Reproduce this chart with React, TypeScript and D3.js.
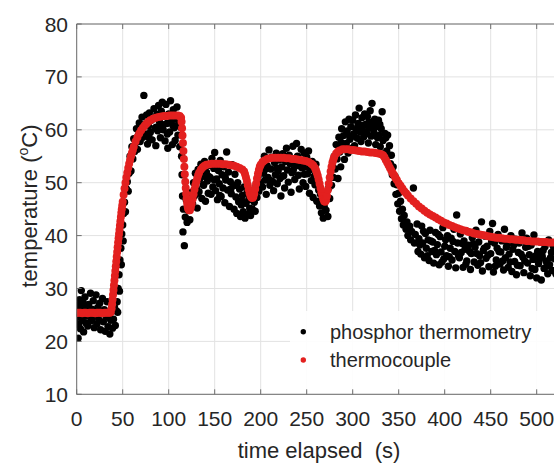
import React from "react";
import * as d3 from "d3";

// ---------- data ----------
const xTicks = [0, 50, 100, 150, 200, 250, 300, 350, 400, 450, 500];
const yTicks = [10, 20, 30, 40, 50, 60, 70, 80];

// phosphor thermometry [time s, temperature °C]
const phBaseline: [number, number][] = [
  [0,24.5],[1,26.8],[1.5,20.6],[2,23.2],[3,27.9],[3.5,25.1],[4,22.4],[5,29.6],[5.5,26.2],[6,24.0],[7,27.3],[7.5,21.8],[8,25.7],[9,28.4],[10,23.5],[10.5,26.6],[11,24.8],[12,22.9],[13,27.0],[14,25.3],[15,29.1],[16,23.9],[16.5,26.1],[17,24.4],[18,27.7],[19,22.6],[20,25.9],[21,28.8],[22,23.3],[23,26.4],[24,24.1],[25,27.2],[26,22.2],[27,25.6],[28,28.1],[29,23.7],[30,26.0],[31,21.9],[32,24.6],[33,27.5],[34,22.8],[35,25.2],[36,21.4],[37,24.0],[38,26.3],[39,22.5],[40,24.2],[41,26.5],[42,23.0],[43,25.8]
];
const phHeat1: [number, number][] = [
  [44,27.5],[44.5,25.5],[45,30.0],[46,32.6],[46.5,29.5],[47,35.4],[48,37.6],[48.5,34.5],[49,40.3],[50,42.0],[50.5,39.0],[51,44.2],[52,46.3],[53,44.5],[54,48.8],[55,50.2],[56,48.4],[57,51.8],
  [58,55.0],[59,52.2],[60,56.8],[61,54.5],[62,58.3],[63,55.9],[64,57.5],[65,60.2],[66,56.3],[67,59.0],[68,61.3],[69,57.8],[70,60.5],[71,62.4],[72,58.6],[73,66.5],[74,61.0],[75,59.2],[76,62.8],[77,57.3],[78,60.7],[79,63.2],[80,59.5],[81,61.8],[82,58.1],[83,62.2],[84,64.0],[85,60.3],[86,57.0],[87,62.9],[88,59.8],[89,64.6],[90,61.5],[91,58.5],[92,63.5],[93,65.2],[94,60.0],[95,62.6],[96,57.9],[97,64.8],[98,61.2],[99,56.5],[100,63.0],[101,59.6],[102,65.5],[103,61.7],[104,57.2],[105,63.8],[106,60.4],[107,58.0],[108,62.1],[109,64.3],[110,59.0],[111,61.4],[112,56.8]
];
const phCool1: [number, number][] = [
  [113,60.5],[114,55.0],[114.5,51.5],[115,47.5],[115.5,40.7],[116,45.0],[117,38.1],[118,43.5],[119,46.8],[120,42.5],[121,44.8],[122,47.5],[123,43.0],[124,45.6],[125,48.2],
  [126,46.0],[127,50.0],[128,47.5],[129,51.8],[130,49.0],[131,45.2],[132,52.5],[133,48.3],[134,50.8],[135,53.5],[136,47.0],[137,51.2],[138,49.5],[139,54.0],[140,46.5],[141,52.0],[142,50.3],[143,48.0],[144,53.3],[145,51.0],[146,47.8],[147,54.6],[148,49.2],[149,52.7],[150,55.7],[151,48.5],[152,50.7],[153,46.8],[154,52.3],[155,49.8],[156,54.2],[157,47.4],[158,51.5],[159,49.0],[160,53.0],[161,46.2],[162,50.5],[163,55.8],[164,48.6],[165,52.0],[166,45.5],[167,50.2],[168,47.9],[169,53.4],[170,49.4],[171,45.0],[172,51.6],[173,47.3],[174,44.2],[175,50.0],[176,46.4],[177,48.8],[178,43.6],[179,45.8],[180,47.6],[181,44.5],[182,49.2],[183,43.3],[184,46.1],[185,48.0],
  [186,44.0],[187,46.8],[188,45.2],[189,43.8],[190,47.5],[191,45.0],[192,48.6],[193,46.3],[194,44.6],[195,49.5],[196,47.2],[197,51.0],[198,48.4],[199,52.5],[200,50.0]
];
const phHeat2: [number, number][] = [
  [201,53.5],[202,49.2],[203,51.8],[204,55.0],[205,50.5],[206,47.8],[207,53.2],[208,51.0],[209,56.2],[210,49.5],[211,52.6],[212,54.8],[213,50.2],[214,48.5],[215,53.8],[216,51.5],[217,55.6],[218,49.8],[219,52.2],[220,54.3],[221,50.8],[222,47.5],[223,53.0],[224,55.5],[225,51.3],[226,49.0],[227,54.0],[228,56.5],[229,52.4],[230,50.1],[231,55.2],[232,53.6],[233,48.2],[234,51.9],[235,56.9],[236,54.5],[237,50.6],[238,53.3],[239,57.4],[240,55.0],[241,51.4],[242,48.8],[243,54.2],[244,56.3],[245,52.8],[246,50.0],[247,55.6],[248,53.0],[249,49.3],[250,54.8],[251,51.7],[252,56.0],[253,48.0],[254,52.5],[255,50.4],[256,54.0],[257,47.2],[258,51.2],[259,49.6],[260,53.5],[261,46.5],[262,50.8],
  [263,48.6],[264,45.6],[265,47.8],[266,44.3],[267,46.6],[268,43.3],[269,45.5],[270,47.9],[271,44.8],[272,46.9],[273,43.6],[274,49.0],[275,47.0],[276,51.2],[277,49.5],[278,53.0],[279,51.0],[280,55.0]
];
const phHeat3: [number, number][] = [
  [281,52.6],[282,57.2],[283,54.5],[284,50.8],[285,58.6],[286,55.8],[287,53.0],[288,60.2],[289,56.8],[290,58.9],[291,54.4],[292,61.5],[293,57.4],[294,59.8],[295,55.6],[296,62.0],[297,58.2],[298,60.6],[299,56.5],[300,61.8],[301,59.2],[302,57.0],[303,62.8],[304,60.0],[305,58.4],[306,61.2],[307,64.1],[308,59.6],[309,57.8],[310,62.3],[311,60.8],[312,58.7],[313,63.0],[314,61.0],[315,59.3],[316,62.5],[317,57.5],[318,60.3],[319,63.6],[320,58.8],[321,65.0],[322,61.6],[323,59.5],[324,62.0],[325,57.2],[326,60.6],[327,58.5],[328,61.8],[329,59.0],[330,56.8],[331,60.2],[332,63.4],[333,58.0],[334,55.5],[335,59.3]
];
const phCool2: [number, number][] = [
  [336,58.5],[337,56.0],[338,59.0],[339,55.2],[340,57.0],[341,53.6],[342,55.2],[343,51.5],[344,53.0],[345,49.8],[346,51.2],[347,47.8],[348,49.6],[349,46.0],[350,48.0],[351,44.6],[352,46.5],[353,43.2],[354,45.0],[355,42.0],[356,43.8],[358,41.2],[359,42.6],[360,40.0],[362,41.8],[363,39.2],[364,40.8],[366,49.0],[367,38.6],[368,40.2],[370,42.2],
  [371,37.0],[372,39.4],[374,36.5],[375,41.8],[376,38.6],[378,35.8],[379,40.4],[380,37.6],[382,39.2],[383,35.3],[384,41.0],[386,37.0],[387,38.8],[388,34.8],[390,40.6],[391,36.4],[392,38.3],[394,34.5],[395,39.8],[396,36.9],[398,41.5],[399,35.6],[400,38.0],[402,36.2],[403,40.0],[404,34.2],[406,37.6],[407,39.5],[408,35.4],[410,41.2],[411,37.0],[412,33.9],[413,43.9],[414,38.6],[416,35.8],[417,40.3],[418,36.8],[420,34.0],[421,39.0],[422,37.4],[424,35.2],[425,40.8],[426,38.2],[428,33.6],[429,36.6],[430,39.6],[432,35.0],[433,37.8],[434,41.0],[436,34.4],[437,38.8],[438,36.2],[440,42.6],[441,33.3],[442,37.2],[444,39.9],[445,35.7],[446,38.0],[448,34.1],[449,40.8],[450,36.6],[452,42.3],[453,33.1],[454,38.6],[456,35.4],[457,37.6],[458,40.2],[460,34.6],[461,36.9],[462,39.0],[464,33.5],[465,41.2],[466,35.8],[468,38.4],[469,34.0],[470,36.5],[472,40.0],[473,33.2],[474,37.4],[476,35.1],[477,39.3],[478,32.6],[480,36.8],[481,38.6],[482,34.3],[484,40.5],[485,35.9],[486,33.0],[488,37.8],[489,39.5],[490,34.8],[492,36.4],[493,32.4],[494,38.2],[496,35.5],[497,40.1],[498,33.6],[500,32.0],[501,37.0],[502,34.7],[504,38.8],[505,31.6],[506,36.1],[508,33.8],[509,37.9],[510,35.2],[512,32.8],[513,39.2],[514,34.5],[516,36.8],[517,33.4],[518,38.0],[520,35.6],[521,32.7],[522,37.2],[524,34.0]
];
// additional phosphor readings (interleaved acquisitions)
const phExtra: [number, number][] = [
  [66.5,58.2],[78.5,58.5],[86.5,60.5],[92.5,61.0],[98.5,59.2],[104.5,60.8],
  [131.5,48.0],[137.5,49.6],[143.5,51.2],[149.5,50.5],[155.5,47.6],[161.5,51.0],[167.5,48.8],[173.5,49.5],[179.5,46.6],
  [205.5,52.6],[211.5,50.4],[217.5,52.8],[223.5,51.2],[229.5,54.2],[235.5,52.4],[241.5,53.2],[247.5,51.6],[253.5,53.2],[259.5,51.4],
  [287.5,57.6],[293.5,59.2],[299.5,58.8],[305.5,60.6],[311.5,59.8],[317.5,61.4],[323.5,60.8],[329.5,61.0],
  [373,38.2],[377,40.8],[381,36.2],[385,39.0],[389,37.2],[393,40.2],[397,35.0],[401,39.2],[405,36.0],[409,38.9],[415,36.2],[419,38.5],[423,34.6],[427,37.0],[431,38.4],[435,36.6],[439,34.9],[443,37.6],[447,36.3],[451,38.9],[455,34.2],[459,37.0],[463,35.2],[467,37.8],[471,35.0],[475,38.2],[479,34.4],[483,36.5],[487,35.2],[491,38.0],[495,33.8],[499,36.2],[503,35.6],[507,37.2],[511,34.2],[515,35.8],[519,37.4],[523,35.8]
];

// thermocouple [time s, temperature °C]
const tcBaseline: [number, number][] = [
  [0,25.4],[2,25.4],[4,25.4],[6,25.3],[8,25.4],[10,25.4],[12,25.3],[14,25.4],[16,25.4],[18,25.4],[20,25.3],[22,25.4],[24,25.4],[26,25.4],[28,25.3],[30,25.4],[32,25.4],[34,25.4],[36,25.4],[37,25.5]
];
const tcHeat1: [number, number][] = [
  [38,26.2],[38.5,27.0],[39,27.9],[39.5,28.8],[40,29.7],[40.5,30.6],[41,31.5],[41.5,32.4],[42,33.3],[42.5,34.2],[43,35.1],[43.5,36.0],[44,36.9],[44.5,37.8],[45,38.7],[45.5,39.5],[46,40.3],[46.5,41.1],[47,41.9],[47.5,42.7],[48,43.5],[48.5,44.3],[49,45.0],[49.5,45.7],[50,46.4],[51,47.7],[52,48.9],[53,50.0],[54,51.0],[55,51.9],[56,52.8],[57,53.6],[58,54.3],[59,55.0],[60,55.6],[61,56.2],[62,56.8],[64,57.8],[66,58.6],[68,59.3],[70,59.9],[72,60.4],[74,60.8],[76,61.2],[78,61.5],[80,61.8],[83,62.1],[86,62.3],[89,62.4],[92,62.5],[95,62.6],[98,62.6],[101,62.7],[104,62.7],[107,62.7],[110,62.7],[112,62.6],[113.5,62.3]
];
const tcCycle: [number, number][] = [
  [114,61.5],[114.5,60.3],[115,58.9],[115.5,57.5],[116,56.0],[116.5,54.5],[117,53.0],[117.5,51.6],[118,50.2],[118.5,49.0],[119,47.9],[119.5,47.0],[120,46.2],[120.5,45.6],[121,45.1],[122,44.8],[123,44.8],[124,45.3],[125,46.0],[126,46.9],[127,47.8],[128,48.7],[129,49.5],[130,50.2],[131,50.8],[132,51.4],[133,51.9],[135,52.5],[137,52.9],[139,53.2],[141,53.4],[144,53.5],[147,53.6],[150,53.6],[153,53.6],[156,53.6],[159,53.5],[162,53.5],[165,53.4],[168,53.3],[171,53.2],[174,53.0],[177,52.8],[180,52.5],[182,52.1],[183,51.6],[184,51.0],[185,50.3],[186,49.5],[187,48.7],[188,48.0],[189,47.5],[190,47.2],[191,47.1],[192,47.3],[193,47.9],[194,48.8],[195,49.8],[196,50.8],[197,51.7],[198,52.4],[199,53.0],[200,53.4],[202,53.9],[204,54.2],[207,54.5],[210,54.6],[213,54.7],[216,54.7],[219,54.7],[222,54.7],[225,54.7],[228,54.6],[231,54.6],[234,54.5],[237,54.5],[240,54.4],[243,54.3],[246,54.2],[249,54.1],[252,53.9],[255,53.6],[257,53.3],[259,52.8],[260,52.4],[261,51.9],[262,51.3],[263,50.6],[264,49.8],[265,49.0],[266,48.2],[267,47.5],[268,46.9],[269,46.5],[270,46.4],[271,46.7],[272,47.5],[273,48.6],[274,49.8],[275,51.0],[276,52.1],[277,53.0],[278,53.8],[279,54.4],[280,54.9],[282,55.5],[284,55.9],[286,56.1],[289,56.3],[292,56.3],[295,56.3],[298,56.2],[301,56.2],[304,56.1],[307,56.0],[310,55.9],[313,55.9],[316,55.8],[319,55.7],[322,55.7],[325,55.6],[328,55.5],[331,55.4],[333,55.2]
];
const tcCool2: [number, number][] = [
  [334.5,54.8],[336,54.3],[337.5,53.8],[339,53.3],[340.5,52.8],[342,52.3],[343.5,51.8],[345,51.4],[346.5,50.9],[348,50.5],[350,49.9],[352,49.4],[354,48.9],[356,48.4],[358,48.0],[360,47.6],[363,47.0],[366,46.5],[369,46.0],[372,45.5],[375,45.1],[378,44.7],[381,44.3],[384,44.0],[387,43.7],[390,43.4],[393,43.1],[396,42.8],[399,42.5],[402,42.3],[405,42.0],[408,41.8],[411,41.6],[414,41.4],[417,41.2],[420,41.0],[423,40.9],[426,40.7],[429,40.6],[432,40.4],[435,40.3],[438,40.2],[441,40.1],[444,40.0],[447,39.9],[450,39.8],[453,39.7],[456,39.6],[459,39.6],[462,39.5],[465,39.4],[468,39.4],[471,39.3],[474,39.3],[477,39.2],[480,39.2],[483,39.1],[486,39.1],[489,39.0],[492,39.0],[495,38.9],[498,38.9],[501,38.9],[504,38.8],[507,38.8],[510,38.8],[513,38.7],[516,38.7],[519,38.7],[522,38.6],[525,38.6]
];

const legendLabels = ["phosphor thermometry", "thermocouple"];

// ---------- chart ----------
const W = 554;
const H = 463;
const FONT = "'Liberation Sans', Arial, Helvetica, sans-serif";
const RED = "#e3201f";

export default function App() {
  const x = d3.scaleLinear().domain([0, 550]).range([76.7, 76.7 + 550 * 0.92]);
  const y = d3.scaleLinear().domain([10, 80]).range([394.3, 24]);
  const [x0, x1] = x.range();
  const [yb, yt] = y.range();

  const phosphor = [...phBaseline, ...phHeat1, ...phCool1, ...phHeat2, ...phHeat3, ...phCool2, ...phExtra];
  const thermo = [...tcBaseline, ...tcHeat1, ...tcCycle, ...tcCool2];

  return (
    <svg width={W} height={H} style={{ position: "absolute", left: 0, top: 0, background: "#fff" }} fontFamily={FONT}>
      <defs>
        <clipPath id="plotClip">
          <rect x={x0} y={yt} width={x1 - x0} height={yb - yt} />
        </clipPath>
      </defs>
      {/* grid */}
      <g stroke="#e2e2e2" strokeWidth={1}>
        {xTicks.map((t) => (
          <line key={"gx" + t} x1={x(t)} x2={x(t)} y1={yt} y2={yb} />
        ))}
        {yTicks.map((t) => (
          <line key={"gy" + t} x1={x0} x2={x1} y1={y(t)} y2={y(t)} />
        ))}
      </g>
      {/* data */}
      <g clipPath="url(#plotClip)">
        {phosphor.map((d, i) => (
          <circle key={"p" + i} cx={x(d[0])} cy={y(d[1])} r={3.7} fill="#000" />
        ))}
        {thermo.map((d, i) => (
          <circle key={"t" + i} cx={x(d[0])} cy={y(d[1])} r={4} fill={RED} />
        ))}
      </g>
      {/* legend */}
      <rect x={290} y={311} width={300} height={80} fill="#fff" opacity={0.92} />
      <circle cx={303.3} cy={331.7} r={2.7} fill="#000" />
      <circle cx={303.3} cy={360} r={2.7} fill={RED} />
      <text x={330} y={339} fontSize={20} fill="#262626">{legendLabels[0]}</text>
      <text x={330} y={367} fontSize={20} fill="#262626">{legendLabels[1]}</text>
      {/* axes */}
      <g stroke="#6e6e6e" strokeWidth={1} fill="none">
        <line x1={x0} x2={x1} y1={yb} y2={yb} />
        <line x1={x0} x2={x1} y1={yt} y2={yt} />
        <line x1={x0} x2={x0} y1={yt} y2={yb} />
        {xTicks.map((t) => (
          <g key={"tx" + t}>
            <line x1={x(t)} x2={x(t)} y1={yb} y2={yb - 5} />
            <line x1={x(t)} x2={x(t)} y1={yt} y2={yt + 5} />
          </g>
        ))}
        {yTicks.map((t) => (
          <line key={"ty" + t} x1={x0} x2={x0 + 5} y1={y(t)} y2={y(t)} />
        ))}
      </g>
      {/* tick labels */}
      <g fontSize={21} fill="#262626">
        {xTicks.map((t) => (
          <text key={"lx" + t} x={x(t)} y={426} textAnchor="middle">{t}</text>
        ))}
        {yTicks.map((t) => (
          <text key={"ly" + t} x={68} y={y(t) + 7.5} textAnchor="end">{t}</text>
        ))}
      </g>
      {/* axis titles */}
      <text x={319} y={458} fontSize={22} textAnchor="middle" fill="#262626" style={{ whiteSpace: "pre" }}>
        {"time elapsed  (s)"}
      </text>
      <text transform={`translate(37,206) rotate(-90)`} fontSize={22} textAnchor="middle" fill="#262626">
        temperature (<tspan fontSize={14} dy={-9}>o</tspan><tspan dy={9}>C)</tspan>
      </text>
    </svg>
  );
}
